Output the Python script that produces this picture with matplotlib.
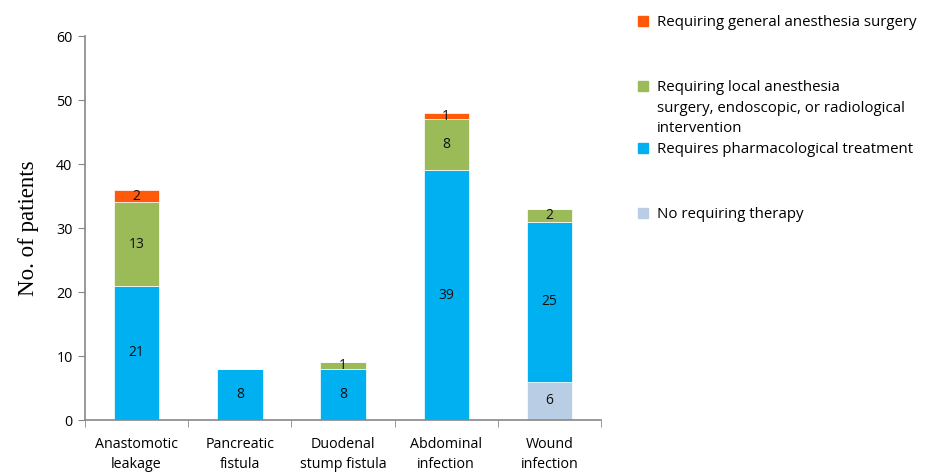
import matplotlib
matplotlib.use("Agg")
import matplotlib.pyplot as plt
from matplotlib.patches import Rectangle
import numpy as np

categories = ["Anastomotic\nleakage", "Pancreatic\nfistula", "Duodenal\nstump fistula",
              "Abdominal\ninfection", "Wound\ninfection"]
no_therapy = [0, 0, 0, 0, 6]
pharmacological = [21, 8, 8, 39, 25]
local_anesthesia = [13, 0, 1, 8, 2]
general_anesthesia = [2, 0, 0, 1, 0]

series = [
    ("No requiring therapy", no_therapy, "#b9cde5"),
    ("Requires pharmacological treatment", pharmacological, "#00b0f0"),
    ("Requiring local anesthesia\nsurgery, endoscopic, or radiological\nintervention", local_anesthesia, "#9bbb59"),
    ("Requiring general anesthesia surgery", general_anesthesia, "#fe5a0a"),
]

plt.rcParams['font.family'] = ['Open Sans', 'DejaVu Sans']

fig = plt.figure(figsize=(9.34, 4.72), dpi=100)
ax = fig.add_axes([0.091, 0.110, 0.5525, 0.8136])

x = np.arange(len(categories))
bottom = np.zeros(len(categories))
for name, vals, color in series:
    vals = np.array(vals, dtype=float)
    ax.bar(x, vals, width=0.44, bottom=bottom, color=color, edgecolor="white", linewidth=0.5)
    for xi, b, v in zip(x, bottom, vals):
        if v > 0:
            ax.text(xi, b + v / 2, str(int(v)), ha="center", va="center", fontsize=10, color="#111111")
    bottom += vals

ax.set_xlim(-0.5, len(categories) - 0.5)
ax.set_ylim(0, 60)
ax.set_yticks(range(0, 61, 10))
ax.set_xticks(x)
ax.set_xticklabels(categories, fontsize=10.3, linespacing=1.45)
ax.set_xticks(np.arange(-0.5, len(categories), 1), minor=True)
ax.tick_params(axis="x", which="major", length=0, pad=12)
ax.tick_params(axis="x", which="minor", length=5, color="#878787", direction="out")
ax.tick_params(axis="y", length=5, color="#878787", labelsize=10.3, pad=4)
for s in ["top", "right"]:
    ax.spines[s].set_visible(False)
for s in ["left", "bottom"]:
    ax.spines[s].set_color("#878787")
    ax.spines[s].set_linewidth(1.2)

ax.set_ylabel("No. of patients", fontsize=16.5, family="Liberation Serif", labelpad=12)

# legend drawn by hand to keep the original's uneven spacing
W, H = 934, 472
legend_rows = [(21, series[3]), (86, series[2]), (148, series[1]), (213, series[0])]
for ypix, (name, vals, color) in legend_rows:
    fig.add_artist(Rectangle((638 / W, 1 - (ypix + 5) / H), 10 / W, 10 / H,
                             transform=fig.transFigure, color=color))
    fig.text(657 / W, 1 - (ypix - 6) / H, name, fontsize=10.8, va="top", ha="left",
             linespacing=1.5)

fig.savefig("out.png", dpi=100)
